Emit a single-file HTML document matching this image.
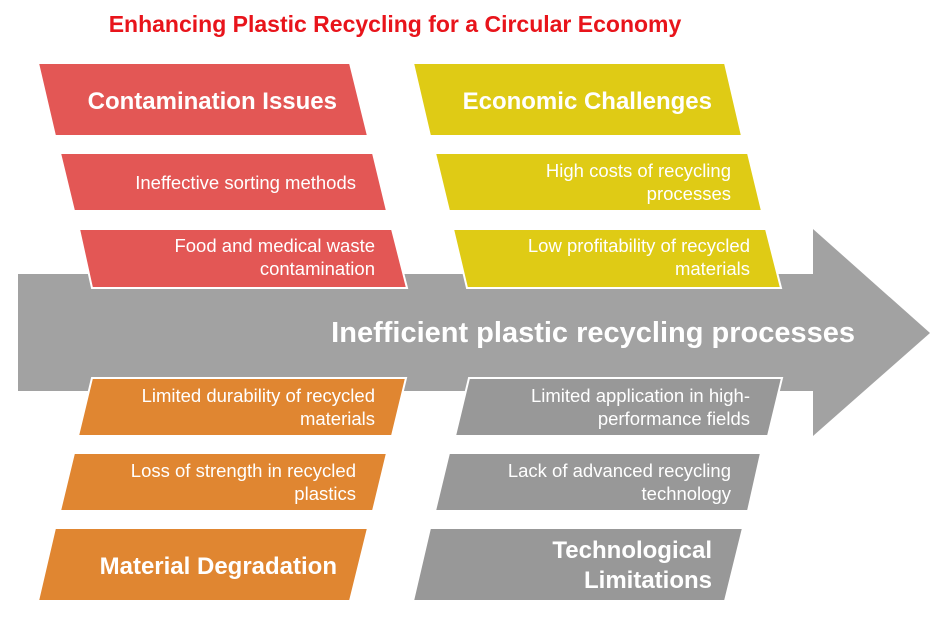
<!DOCTYPE html>
<html><head><style>
html,body{margin:0;padding:0;background:#fff;}
svg{display:block;font-family:"Liberation Sans",Arial,sans-serif;}
.b{font-weight:bold;fill:#fff;font-size:24px;}
.s{fill:#fff;font-size:18.5px;}
</style></head><body>
<svg width="944" height="619" viewBox="0 0 944 619">
<text x="395" y="32" text-anchor="middle" font-size="23" font-weight="bold" fill="#e8141b">Enhancing Plastic Recycling for a Circular Economy</text>
<polygon points="18,274 813,274 813,229 930,333 813,436 813,391 18,391" fill="#a2a2a2"/>
<g stroke="#fff" stroke-width="2">
<polygon points="38,63 350,63 368,136 55,136" fill="#e35755"/>
<polygon points="60,153 373,153 387,211 74,211" fill="#e35755"/>
<polygon points="79,229 392,229 407,288 92,288" fill="#e35755"/>
<polygon points="413,63 725,63 742,136 430,136" fill="#dfcb15"/>
<polygon points="435,153 748,153 762,211 449,211" fill="#dfcb15"/>
<polygon points="453,229 766,229 781,288 467,288" fill="#dfcb15"/>
<polygon points="92,378 406,378 392,436 78,436" fill="#e08631"/>
<polygon points="74,453 387,453 373,511 60,511" fill="#e08631"/>
<polygon points="55,528 368,528 350,601 38,601" fill="#e08631"/>
<polygon points="469,378 782,378 768,436 455,436" fill="#989898"/>
<polygon points="449,453 761,453 748,511 435,511" fill="#989898"/>
<polygon points="430,528 743,528 725,601 413,601" fill="#989898"/>
</g>
<g text-anchor="end">
<text class="b" x="337" y="109">Contamination Issues</text>
<text class="s" x="356" y="189">Ineffective sorting methods</text>
<text class="s" x="375" y="252">Food and medical waste</text>
<text class="s" x="375" y="275">contamination</text>
<text class="b" x="712" y="109">Economic Challenges</text>
<text class="s" x="731" y="177">High costs of recycling</text>
<text class="s" x="731" y="200">processes</text>
<text class="s" x="750" y="252">Low profitability of recycled</text>
<text class="s" x="750" y="275">materials</text>
<text x="855" y="342" font-size="29" font-weight="bold" fill="#fff">Inefficient plastic recycling processes</text>
<text class="s" x="375" y="402">Limited durability of recycled</text>
<text class="s" x="375" y="425">materials</text>
<text class="s" x="356" y="477">Loss of strength in recycled</text>
<text class="s" x="356" y="500">plastics</text>
<text class="b" x="337" y="574">Material Degradation</text>
<text class="s" x="750" y="402">Limited application in high-</text>
<text class="s" x="750" y="425">performance fields</text>
<text class="s" x="731" y="477">Lack of advanced recycling</text>
<text class="s" x="731" y="500">technology</text>
<text class="b" x="712" y="558">Technological</text>
<text class="b" x="712" y="588">Limitations</text>
</g>
</svg>
</body></html>
